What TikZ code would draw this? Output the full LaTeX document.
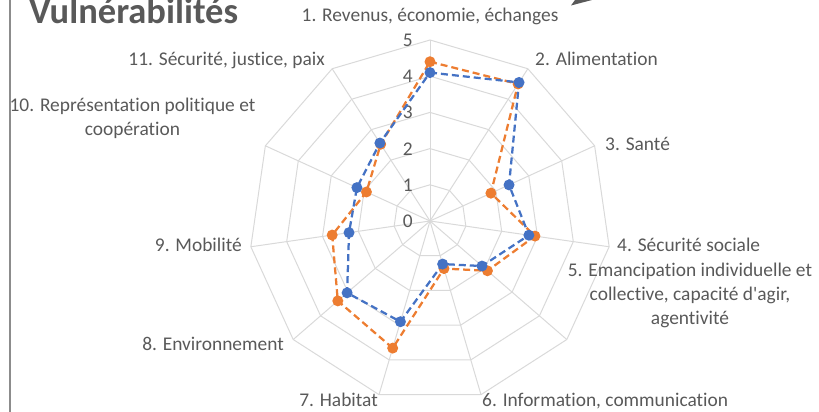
\documentclass[tikz,border=0pt]{standalone}
\usepackage{fontspec}
\setmainfont{Carlito}
\newfontfamily\chartfont{Carlito}[Ligatures=NoCommon]
\definecolor{gridgrey}{HTML}{D9D9D9}
\definecolor{textgrey}{HTML}{595959}
\definecolor{borderline}{HTML}{8C8C8C}
\definecolor{seriesorange}{HTML}{ED7D31}
\definecolor{seriesblue}{HTML}{4472C4}

\begin{document}
\begin{tikzpicture}[x=1pt, y=1pt,
    axislabel/.style={text=textgrey, font=\chartfont\fontsize{19.4}{24}\selectfont, inner sep=0pt, align=center},
    ticklabel/.style={text=textgrey, font=\chartfont\fontsize{19.4}{24}\selectfont, inner sep=0pt, anchor=base east},
    gridline/.style={draw=gridgrey, line width=1pt},
    series/.style={line width=2.25pt, dash pattern=on 7pt off 4pt},
    marker/.style={circle, fill=#1, inner sep=0pt, minimum size=11pt}
]
    \useasboundingbox (0,0) rectangle (819,412);
    \draw[borderline, line width=2pt] (10,0) -- (10,412);
    \fill[textgrey] (571,406.5) -- (592,412) -- (575,412) -- cycle;
    \node[anchor=base west, inner sep=0pt, text=textgrey, font=\chartfont\bfseries\fontsize{36.5}{40}\selectfont] (title) at (29,388.5) {Vulnérabilités};

    \begin{scope}[shift={(430,191)}]
        \coordinate (c) at (0,0);
        \foreach \k in {1,...,11}
            \coordinate (v\k) at ({90-(\k-1)*360/11}:181);
        \foreach \r in {1,...,5}
            \draw[gridline] (90:36.2*\r) \foreach \k in {1,...,10} {-- ({90-\k*360/11}:36.2*\r)} -- cycle;
        \foreach \k in {1,...,11}
            \draw[gridline] (c) -- (v\k);
        \foreach \v in {0,...,5}
            \node[ticklabel] (tick\v) at (-17,36.2*\v-6.5) {\v};

        \foreach \val [count=\k] in {4.4,4.5,1.85,2.93,2.1,1.37,3.66,3.37,2.73,1.93,2.52}
            \coordinate (o\k) at ({90-(\k-1)*360/11}:36.2*\val);
        \foreach \val [count=\k] in {4.1,4.55,2.4,2.76,1.9,1.24,2.9,3.03,2.26,2.22,2.56}
            \coordinate (b\k) at ({90-(\k-1)*360/11}:36.2*\val);

        \draw[series, seriesorange] (o1) \foreach \k in {2,...,11} {-- (o\k)} -- cycle;
        \foreach \k in {1,...,11}
            \node[marker=seriesorange] (om\k) at (o\k) {};
        \draw[series, seriesblue] (b1) \foreach \k in {2,...,11} {-- (b\k)} -- cycle;
        \foreach \k in {1,...,11}
            \node[marker=seriesblue] (bm\k) at (b\k) {};
    \end{scope}

    \node[axislabel, anchor=base] (lab1) at (430,390) {1. Revenus, économie, échanges};
    \node[axislabel, anchor=base west] (lab2) at (535,346) {2. Alimentation};
    \node[axislabel, anchor=base west] (lab3) at (605,261) {3. Santé};
    \node[axislabel, anchor=base west] (lab4) at (617,160) {4. Sécurité sociale};
    \node[axislabel, anchor=base] (lab5) at (690,87) {5. Emancipation individuelle et\\collective, capacité d'agir,\\agentivité};
    \node[axislabel, anchor=base west] (lab6) at (482,5) {6. Information, communication};
    \node[axislabel, anchor=base east] (lab7) at (378,5) {7. Habitat};
    \node[axislabel, anchor=base east] (lab8) at (284,61) {8. Environnement};
    \node[axislabel, anchor=base east] (lab9) at (242,160) {9. Mobilité};
    \node[axislabel, anchor=base] (lab10) at (132.5,276) {10. Représentation politique et\\coopération};
    \node[axislabel, anchor=base east] (lab11) at (325,346) {11. Sécurité, justice, paix};
\end{tikzpicture}
\end{document}
